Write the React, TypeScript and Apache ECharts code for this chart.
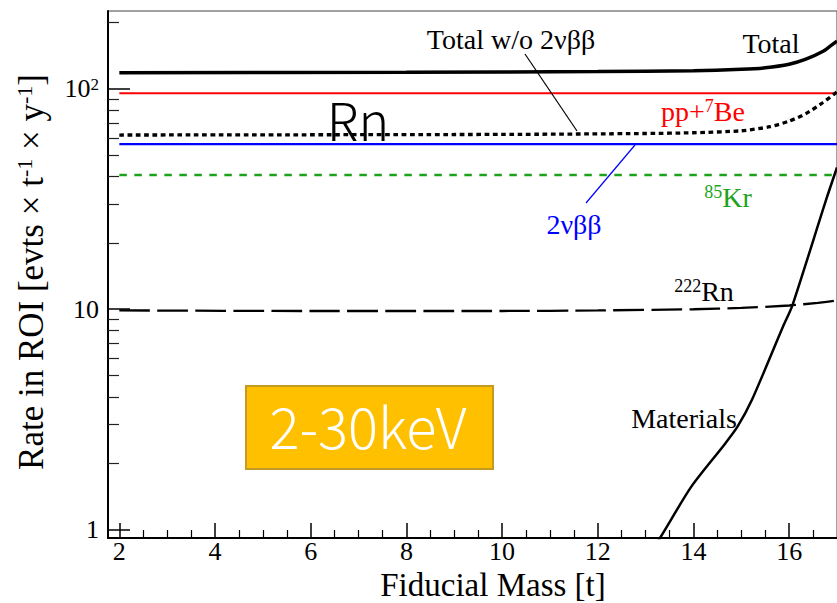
import React, { useEffect, useRef } from 'react';
import * as echarts from 'echarts';

// Axis ticks
const xMajorTicks = [2, 4, 6, 8, 10, 12, 14, 16];
const xMinorTicks = [2.5, 3, 3.5, 4.5, 5, 5.5, 6.5, 7, 7.5, 8.5, 9, 9.5, 10.5, 11, 11.5, 12.5, 13, 13.5, 14.5, 15, 15.5, 16.5];
const yMajorTicks = [1, 10, 100];
const yMinorTicks = [2, 3, 4, 5, 6, 7, 8, 9, 20, 30, 40, 50, 60, 70, 80, 90, 200];

// Series: [fiducial mass (t), rate (evts / t / y)]
const totalData = [[2, 118.5], [8, 119], [12, 120], [14, 121], [15, 122.8], [15.5, 124.8], [16, 129.5], [16.35, 136.5], [16.7, 148], [16.85, 156], [17, 165]];
const totalWo2nbbData = [[2, 61.8], [10, 62.2], [13, 62.8], [14, 63.3], [15, 64.6], [15.6, 67.4], [16, 71.5], [16.35, 77.3], [16.7, 86.6], [17, 97]];
const ppBe7Data = [[2, 95.6], [17, 95.6]];
const nbb2Data = [[2, 56.2], [17, 56.2]];
const kr85Data = [[2, 40.7], [17, 40.7]];
const rn222Data = [[2, 9.88], [6, 9.82], [10, 9.82], [12, 9.88], [14, 10.0], [15, 10.15], [16, 10.4], [16.6, 10.7], [17, 10.95]];
const materialsData = [[12.99, 0.727], [13.3, 0.915], [13.955, 1.565], [14.64, 2.42], [14.92, 2.93], [15.22, 3.87], [15.87, 8.33], [16.07, 10.45], [16.77, 31.3], [17, 44]];

const X_MIN = 1.763;
const X_MAX = 17;
const Y_MIN = 0.915;
const Y_MAX = 226;

const SERIF = 'Liberation Serif';
const SANS = 'Noto Sans CJK JP';

function lineSeries(name: string, data: number[][], color: string, width: number, type: any, smooth: number | boolean) {
  return {
    name,
    type: 'line',
    data,
    showSymbol: false,
    symbol: 'none',
    smooth,
    clip: true,
    lineStyle: { color, width, type, cap: 'butt' },
    emphasis: { disabled: true },
    z: 5,
  };
}

function richText(id: string, x: number, y: number, text: string, color: string, size: number, supSize: number, extra: any = {}) {
  return {
    type: 'text',
    id,
    x,
    y,
    z: 100,
    ...extra,
    style: {
      text,
      x: 0,
      y: 0,
      align: 'center',
      verticalAlign: 'middle',
      fill: color,
      fontFamily: SERIF,
      fontSize: size,
      rich: {
        a: { fontFamily: SERIF, fontSize: size, fill: color },
        s: { fontFamily: SERIF, fontSize: supSize, fill: color, verticalAlign: 'top' },
      },
    },
  };
}

export default function App() {
  const ref = useRef<HTMLDivElement>(null);

  useEffect(() => {
    if (!ref.current) return;
    const chart = echarts.init(ref.current, undefined, { renderer: 'svg' });

    const option: any = {
      animation: false,
      backgroundColor: '#ffffff',
      grid: {
        left: 108,
        top: 11,
        right: -11,
        bottom: 65,
        show: true,
        borderColor: '#444',
        borderWidth: 1,
        backgroundColor: 'transparent',
      },
      xAxis: [
        {
          type: 'value',
          min: X_MIN,
          max: X_MAX,
          position: 'bottom',
          axisLine: { show: true, onZero: false, lineStyle: { color: '#000', width: 2 } },
          axisTick: { show: true, inside: true, length: 15, customValues: xMajorTicks, lineStyle: { color: '#000', width: 1.5 } },
          axisLabel: { show: true, customValues: xMajorTicks, margin: 3.5, lineHeight: 20, color: '#000', fontFamily: SERIF, fontSize: 26 },
          splitLine: { show: false },
        },
        {
          type: 'value',
          min: X_MIN,
          max: X_MAX,
          position: 'bottom',
          axisLine: { show: false },
          axisTick: { show: true, inside: true, length: 8, customValues: xMinorTicks, lineStyle: { color: '#000', width: 1.2 } },
          axisLabel: { show: false },
          splitLine: { show: false },
        },
      ],
      yAxis: [
        {
          type: 'log',
          logBase: 10,
          min: Y_MIN,
          max: Y_MAX,
          position: 'left',
          axisLine: { show: true, onZero: false, lineStyle: { color: '#000', width: 2 } },
          axisTick: { show: true, inside: true, length: 22, customValues: yMajorTicks, lineStyle: { color: '#000', width: 1.5 } },
          axisLabel: {
            show: true,
            customValues: yMajorTicks,
            margin: 9,
            color: '#000',
            fontFamily: SERIF,
            fontSize: 26,
            formatter: (v: number) => {
              const e = Math.round(Math.log10(v));
              if (e >= 2) return '{a|10}{s|' + e + '}';
              return '{a|' + Math.round(v) + '}';
            },
            rich: {
              a: { fontFamily: SERIF, fontSize: 26, color: '#000' },
              s: { fontFamily: SERIF, fontSize: 17, color: '#000', verticalAlign: 'top' },
            },
          },
          splitLine: { show: false },
        },
        {
          type: 'log',
          logBase: 10,
          min: Y_MIN,
          max: Y_MAX,
          position: 'left',
          axisLine: { show: false },
          axisTick: { show: true, inside: true, length: 11, customValues: yMinorTicks, lineStyle: { color: '#222', width: 1.2 } },
          axisLabel: { show: false },
          splitLine: { show: false },
        },
      ],
      series: [
        lineSeries('Total', totalData, '#000000', 3.5, 'solid', 0.25),
        lineSeries('pp+7Be', ppBe7Data, '#ff0000', 2, 'solid', false),
        lineSeries('Total w/o 2νββ', totalWo2nbbData, '#000000', 3.3, [4.7, 3.6], 0.25),
        lineSeries('2νββ', nbb2Data, '#0000ff', 2.2, 'solid', false),
        lineSeries('85Kr', kr85Data, '#1ca31c', 2.5, [7.5, 7.5], false),
        lineSeries('222Rn', rn222Data, '#000000', 2.3, [30.7, 7.3], 0.25),
        lineSeries('Materials', materialsData, '#000000', 2.5, 'solid', 0.25),
      ],
      graphic: [
        // Axis titles
        richText('ytitle', 31, 272, '{a|Rate in ROI [evts × t}{s|-1}{a| × y}{s|-1}{a|]}', '#000', 35, 22, { rotation: Math.PI / 2 }),
        richText('xtitle', 493, 584.5, '{a|Fiducial Mass [t]}', '#000', 33, 21),
        // Curve annotations
        richText('lblTotalWo', 511, 39, '{a|Total w/o 2νββ}', '#000', 28, 18),
        { type: 'line', z: 100, shape: { x1: 525, y1: 54, x2: 577, y2: 131 }, style: { stroke: '#000', lineWidth: 1.2 } },
        richText('lblTotal', 771, 43, '{a|Total}', '#000', 28, 18),
        richText('lblPP', 703, 111, '{a|pp+}{s|7}{a|Be}', '#ff0000', 28, 18),
        richText('lbl2nbb', 574, 224, '{a|2νββ}', '#0000ff', 28, 18),
        { type: 'line', z: 100, shape: { x1: 635, y1: 145, x2: 586, y2: 203 }, style: { stroke: '#0000ff', lineWidth: 1.2 } },
        richText('lblKr', 728, 197, '{s|85}{a|Kr}', '#1ca31c', 28, 18),
        richText('lblRn222', 704, 291, '{s|222}{a|Rn}', '#000', 28, 18),
        richText('lblMat', 684, 418, '{a|Materials}', '#000', 28, 18),
        {
          type: 'text',
          z: 100,
          x: 358,
          y: 118,
          style: { text: 'Rn', x: 0, y: 0, align: 'center', verticalAlign: 'middle', fill: '#000', fontFamily: SANS, fontWeight: 300, fontSize: 52 },
        },
        // Energy window box
        {
          type: 'rect',
          z: 100,
          shape: { x: 246, y: 386, width: 247, height: 83 },
          style: { fill: '#FFC000', stroke: '#C49A22', lineWidth: 2 },
        },
        {
          type: 'text',
          z: 101,
          x: 368,
          y: 424,
          style: { text: '2-30keV', x: 0, y: 0, align: 'center', verticalAlign: 'middle', fill: '#ffffff', fontFamily: SANS, fontWeight: 300, fontSize: 56 },
        },
      ],
    };

    chart.setOption(option);
    return () => {
      chart.dispose();
    };
  }, []);

  return (
    <div
      ref={ref}
      style={{ position: 'fixed', left: 0, top: 0, width: 837, height: 603, background: '#fff' }}
    />
  );
}
